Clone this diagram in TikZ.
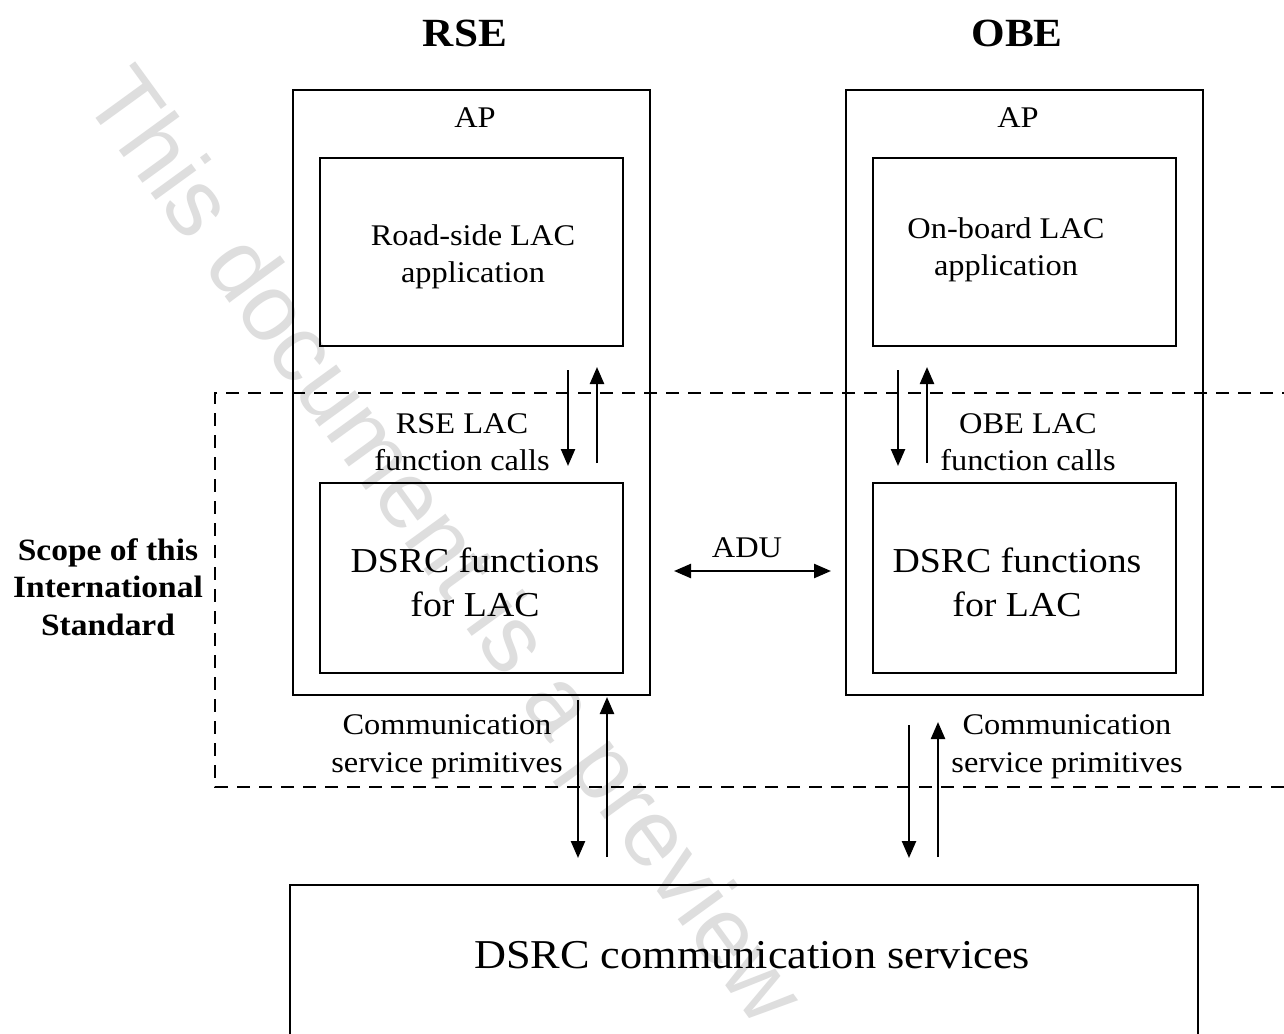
\documentclass[tikz,border=0pt]{standalone}
\usepackage{fontspec}
\setmainfont{Liberation Serif}[FakeStretch=1.08]
\newfontfamily\wmfont{Liberation Sans}
\usetikzlibrary{arrows.meta}
\begin{document}
\begin{tikzpicture}[x=1pt,y=-1pt,
  outerbox/.style={draw, line width=2.6pt, minimum width=357pt, minimum height=605pt, inner sep=0pt},
  innerbox/.style={draw, line width=1.6pt, minimum width=303pt, inner sep=0pt},
  lbl/.style={font=\fontsize{30}{37.5}\selectfont, align=center, inner sep=0pt},
  big/.style={font=\fontsize{35}{44}\selectfont, align=center, inner sep=0pt},
  head/.style={font=\fontsize{40}{48}\selectfont\bfseries, inner sep=0pt},
  scope/.style={font=\fontsize{31}{37.5}\selectfont\bfseries, align=center, inner sep=0pt},
  arr/.style={line width=2.4pt, -{Triangle[length=17pt,width=14pt]}},
  dbl/.style={line width=2.4pt, {Triangle[length=17pt,width=14pt]}-{Triangle[length=17pt,width=14pt]}},
  scopeline/.style={line width=1.6pt, dash pattern=on 13pt off 9pt},
  wm/.style={text=black!13, font=\wmfont\fontsize{95}{95}\selectfont, rotate=-54, inner sep=0pt}
]
\useasboundingbox (0,0) rectangle (1284,1033);
\fill[white] (0,0) rectangle (1284,1033);

% watermark
\node[wm] (wmark) at (440,550) {This document is a preview};

% headings
\node[head] (rse) at (465,33) {RSE};
\node[head] (obe) at (1017,33) {OBE};

% RSE side
\node[outerbox] (rsebox) at (471.5,392.5) {};
\node[lbl] (rseap) at (475,118) {AP};
\node[innerbox, minimum height=188pt] (rseapp) at (471.5,252) {};
\node[lbl] (rseapptxt) at (473,257) {Road-side LAC\\application};
\node[innerbox, minimum height=190pt] (rsedsrc) at (471.5,578) {};
\node[big] (rsedsrctxt) at (475,582) {DSRC functions\\for LAC};

% OBE side
\node[outerbox] (obebox) at (1024.5,392.5) {};
\node[lbl] (obeap) at (1018,118) {AP};
\node[innerbox, minimum height=188pt] (obeapp) at (1024.5,252) {};
\node[lbl] (obeapptxt) at (1006,250) {On-board LAC\\application};
\node[innerbox, minimum height=190pt] (obedsrc) at (1024.5,578) {};
\node[big] (obedsrctxt) at (1017,582) {DSRC functions\\for LAC};

% scope of standard
\draw[scopeline] (1295,393) -- (215,393) -- (215,787) -- (1295,787);
\node[scope] (scopetxt) at (108,587) {Scope of this\\International\\Standard};

% function calls
\coordinate (r1a) at (568,370); \coordinate (r1b) at (568,466);
\coordinate (r2a) at (597,463); \coordinate (r2b) at (597,367);
\draw[arr] (r1a) -- (r1b);
\draw[arr] (r2a) -- (r2b);
\node[lbl] (rsecalls) at (462,442) {RSE LAC\\function calls};

\coordinate (o1a) at (898,370); \coordinate (o1b) at (898,466);
\coordinate (o2a) at (927,463); \coordinate (o2b) at (927,367);
\draw[arr] (o1a) -- (o1b);
\draw[arr] (o2a) -- (o2b);
\node[lbl] (obecalls) at (1028,442) {OBE LAC\\function calls};

% ADU
\coordinate (adul) at (674,571); \coordinate (adur) at (831,571);
\draw[dbl] (adul) -- (adur);
\node[lbl] (adu) at (747,548) {ADU};

% communication service primitives
\coordinate (c1a) at (578,700); \coordinate (c1b) at (578,858);
\coordinate (c2a) at (607,857); \coordinate (c2b) at (607,697);
\draw[arr] (c1a) -- (c1b);
\draw[arr] (c2a) -- (c2b);
\node[lbl] (rseprim) at (447,747) {Communication\\service primitives};

\coordinate (d1a) at (909,725); \coordinate (d1b) at (909,858);
\coordinate (d2a) at (938,857); \coordinate (d2b) at (938,722);
\draw[arr] (d1a) -- (d1b);
\draw[arr] (d2a) -- (d2b);
\node[lbl] (obeprim) at (1067,747) {Communication\\service primitives};

% bottom services box
\node[draw, line width=2.6pt, minimum width=908pt, minimum height=170pt, inner sep=0pt] (comm) at (744,970) {};
\node[font=\fontsize{41}{50}\selectfont, inner sep=0pt] (commtxt) at (752,955) {DSRC communication services};
\end{tikzpicture}
\end{document}
